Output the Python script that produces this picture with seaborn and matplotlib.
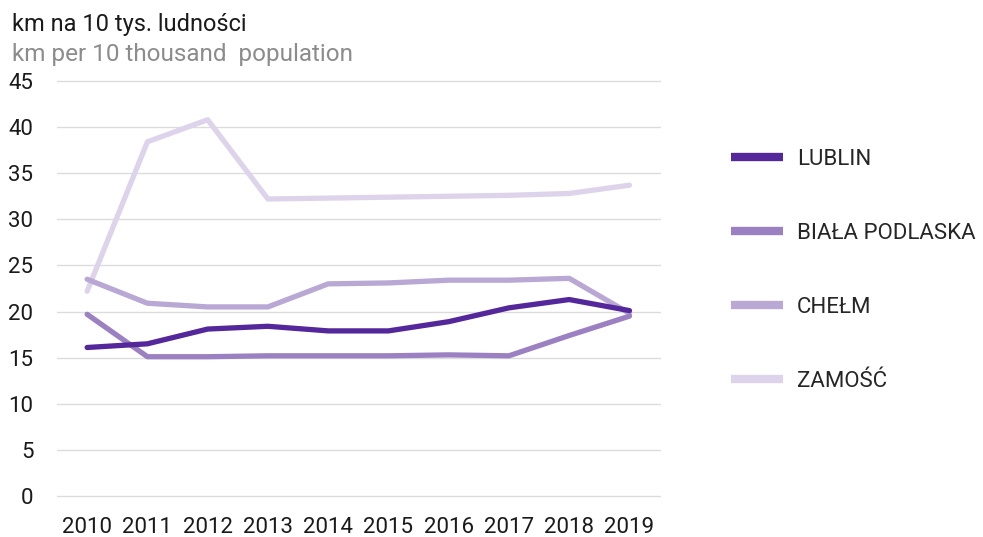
import pandas as pd
import seaborn as sns
import matplotlib.pyplot as plt

years = [2010, 2011, 2012, 2013, 2014, 2015, 2016, 2017, 2018, 2019]
lublin = [16.1, 16.5, 18.1, 18.4, 17.9, 17.9, 18.9, 20.4, 21.3, 20.1]
biala_podlaska = [19.7, 15.1, 15.1, 15.2, 15.2, 15.2, 15.3, 15.2, 17.4, 19.5]
chelm = [23.5, 20.9, 20.5, 20.5, 23.0, 23.1, 23.4, 23.4, 23.6, 19.8]
zamosc = [22.2, 38.4, 40.8, 32.2, 32.3, 32.4, 32.5, 32.6, 32.8, 33.7]
cities = ["LUBLIN", "BIAŁA PODLASKA", "CHEŁM", "ZAMOŚĆ"]
colors = ["#54279a", "#9b80c2", "#b9a7d4", "#ddd3ea"]
y_ticks = [0, 5, 10, 15, 20, 25, 30, 35, 40, 45]

df = pd.DataFrame({"year": years * 4,
                   "value": lublin + biala_podlaska + chelm + zamosc,
                   "city": [c for c in cities for _ in years]})

sns.set_style("white")
plt.rcParams['font.family'] = ['Roboto', 'DejaVu Sans']

fig = plt.figure(figsize=(9.83, 5.37), dpi=100)
ax = fig.add_axes([0.058, 0.0764, 0.613, 0.7728])

sns.lineplot(data=df, x="year", y="value", hue="city", hue_order=cities,
             palette=colors, linewidth=3.8, ax=ax, legend=False)
# zamosc drawn behind the others
for line, z in zip(ax.get_lines(), [5, 4, 3, 2]):
    line.set_zorder(z)
    line.set_solid_capstyle("round")

ax.set_xlim(2009.5, 2019.5)
ax.set_ylim(0, 45)
ax.set_yticks(y_ticks)
ax.set_xticks(years)
ax.set_xticklabels([str(y) for y in years])
ax.grid(axis="y", color="#dcdcdc", linewidth=1)
ax.set_axisbelow(True)
for gl in ax.get_ygridlines():
    gl.set_clip_on(False)
for s in ax.spines.values():
    s.set_visible(False)
ax.tick_params(axis="y", labelsize=16, pad=17, length=0, colors="#1a1a1a")
ax.tick_params(axis="x", labelsize=16, pad=15, length=0, colors="#1a1a1a")
ax.set_xlabel("")
ax.set_ylabel("")

fig.text(0.012, 0.954, "km na 10 tys. ludności", fontsize=17, color="#1a1a1a", va="center")
fig.text(0.012, 0.898, "km per 10 thousand  population", fontsize=17.5, color="#8c8c8c", va="center")

handles = [plt.Line2D([], [], color=c, linewidth=6, solid_capstyle="butt") for c in colors]
fig.legend(handles, cities, loc="upper left", bbox_to_anchor=(0.732, 0.743),
           frameon=False, fontsize=16, handlelength=2.35, handletextpad=0.62,
           labelspacing=2.38, borderpad=0)

fig.savefig("out.png", dpi=100)
